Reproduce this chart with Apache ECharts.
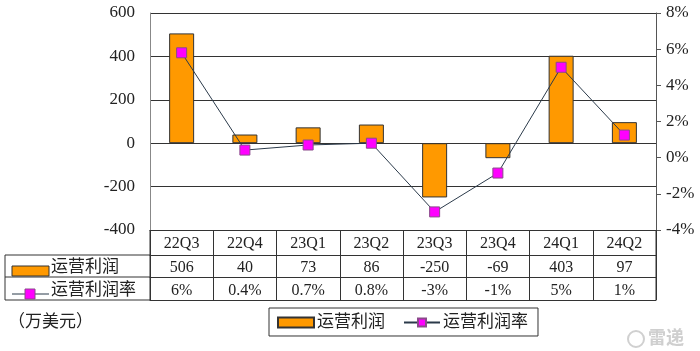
<!DOCTYPE html>
<html>
<head>
<meta charset="utf-8">
<script src="https://cdn.jsdelivr.net/npm/echarts@6/dist/echarts.min.js"></script>
<style>
  html, body { margin: 0; padding: 0; background: #fff; }
  #chart { width: 700px; height: 351px; }
</style>
</head>
<body>
<div id="chart"></div>
<script>
// data
const quarters = ['22Q3', '22Q4', '23Q1', '23Q2', '23Q3', '23Q4', '24Q1', '24Q2']
const profit = [506, 40, 73, 86, -250, -69, 403, 97]
const margin = [5.8, 0.42, 0.7, 0.8, -3.0, -0.85, 5.0, 1.25]
const profitText = ['506', '40', '73', '86', '-250', '-69', '403', '97']
const marginText = ['6%', '0.4%', '0.7%', '0.8%', '-3%', '-1%', '5%', '1%']
const leftTicks = { min: -400, max: 600, step: 200 }
const rightTicks = { min: -4, max: 8, step: 2 }

const FONT = '"Liberation Serif", "Noto Sans CJK SC", serif'
const ORANGE = '#FF9900'
const MAGENTA = '#FF00FF'
const LINE = '#333'

// layout
const GL = 150, GT = 13, GW = 506, GH = 217
const ROW1 = 25, ROW2 = 47, ROW3 = 70   // table row lines, below plot bottom
const GB = GT + GH

const chart = echarts.init(document.getElementById('chart'))

const textStyle = { fontFamily: FONT, fontSize: 16, color: '#222' }

function tableAxis(data, offset, tickLen, labelMargin) {
  return {
    type: 'category', data: data, position: 'bottom', offset: offset,
    axisLine: { show: true, onZero: false, lineStyle: { color: LINE } },
    axisTick: { show: tickLen > 0, interval: 0, alignWithLabel: false, length: tickLen, lineStyle: { color: LINE } },
    axisLabel: Object.assign({ show: labelMargin != null, interval: 0, margin: labelMargin || 0 }, textStyle)
  }
}

chart.setOption({
  animation: false,
  textStyle: { fontFamily: FONT },
  grid: { left: GL, top: GT, width: GW, height: GH, containLabel: false },
  legend: {
    left: 269, top: 308,
    padding: [6, 10, 5, 8],
    borderColor: LINE, borderWidth: 1,
    itemWidth: 36, itemHeight: 10, itemGap: 18,
    textStyle: { fontFamily: FONT, fontSize: 17, color: '#222', padding: [0, 0, 0, -2] },
    data: [{ name: '运营利润', icon: 'rect' }, { name: '运营利润率' }]
  },
  xAxis: [
    tableAxis(quarters, 0, ROW1, 6),
    tableAxis(profitText, ROW1, ROW2 - ROW1, 5),
    tableAxis(marginText, ROW2, ROW3 - ROW2, 6),
    tableAxis(quarters, ROW3, 0, null)
  ],
  yAxis: [
    {
      type: 'value', min: leftTicks.min, max: leftTicks.max, interval: leftTicks.step,
      axisLine: { show: true, lineStyle: { color: '#888' } },
      axisTick: { show: false },
      axisLabel: Object.assign({ margin: 15 }, textStyle, { fontSize: 17 }),
      splitLine: { lineStyle: { color: LINE } }
    },
    {
      type: 'value', min: rightTicks.min, max: rightTicks.max, interval: rightTicks.step,
      position: 'right',
      axisLine: { show: true, lineStyle: { color: '#555' } },
      axisTick: { show: true, length: 5, lineStyle: { color: '#555' } },
      axisLabel: Object.assign({ margin: 10, formatter: '{value}%' }, textStyle, { fontSize: 17 }),
      splitLine: { show: false }
    }
  ],
  series: [
    {
      name: '运营利润', type: 'bar', data: profit, barWidth: 25,
      itemStyle: { color: ORANGE, borderColor: LINE, borderWidth: 1 }
    },
    {
      name: '运营利润率', type: 'line', yAxisIndex: 1, data: margin,
      symbol: 'rect', symbolSize: 10,
      itemStyle: { color: MAGENTA, borderColor: '#8a4a8a', borderWidth: 1 },
      lineStyle: { color: '#2b3a4a', width: 1 }
    }
  ],
  graphic: [
    // row header part of the table
    { type: 'line', shape: { x1: 5, y1: GB + ROW1, x2: GL, y2: GB + ROW1 }, style: { stroke: LINE, lineWidth: 1 } },
    { type: 'line', shape: { x1: 5, y1: GB + ROW2, x2: GL, y2: GB + ROW2 }, style: { stroke: LINE, lineWidth: 1 } },
    { type: 'line', shape: { x1: 5, y1: GB + ROW3, x2: GL, y2: GB + ROW3 }, style: { stroke: LINE, lineWidth: 1 } },
    { type: 'line', shape: { x1: 5, y1: GB + ROW1, x2: 5, y2: GB + ROW3 }, style: { stroke: LINE, lineWidth: 1 } },
    { type: 'line', shape: { x1: GL, y1: GB, x2: GL, y2: GB + ROW3 }, style: { stroke: LINE, lineWidth: 1 } },
    { type: 'line', shape: { x1: GL + GW, y1: GB, x2: GL + GW, y2: GB + ROW3 }, style: { stroke: LINE, lineWidth: 1 } },
    { type: 'rect', shape: { x: 12, y: GB + ROW1 + 11, width: 37, height: 10 }, style: { fill: ORANGE, stroke: LINE, lineWidth: 1 } },
    { type: 'text', x: 51, y: GB + (ROW1 + ROW2) / 2 + 2, style: { text: '运营利润', font: '17px ' + FONT, fill: '#222', verticalAlign: 'middle' } },
    { type: 'line', shape: { x1: 12, y1: GB + ROW2 + 17, x2: 49, y2: GB + ROW2 + 17 }, style: { stroke: '#2b3a4a', lineWidth: 1 } },
    { type: 'rect', shape: { x: 25, y: GB + ROW2 + 12, width: 10, height: 10 }, style: { fill: MAGENTA, stroke: '#8a4a8a', lineWidth: 1 } },
    { type: 'text', x: 51, y: GB + (ROW2 + ROW3) / 2 + 2, style: { text: '运营利润率', font: '17px ' + FONT, fill: '#222', verticalAlign: 'middle' } },
    // unit
    { type: 'text', left: 8, top: 314, style: { text: '（万美元）', font: '17px ' + FONT, fill: '#222' } },
    // watermark
    { type: 'text', left: 648, top: 328, style: { text: '雷递', font: 'bold 18px "Noto Sans CJK SC"', fill: '#cfcfcf' } },
    { type: 'circle', shape: { cx: 636, cy: 339, r: 8 }, style: { fill: 'none', stroke: '#d0d0d0', lineWidth: 2 } }
  ]
})
</script>
</body>
</html>
